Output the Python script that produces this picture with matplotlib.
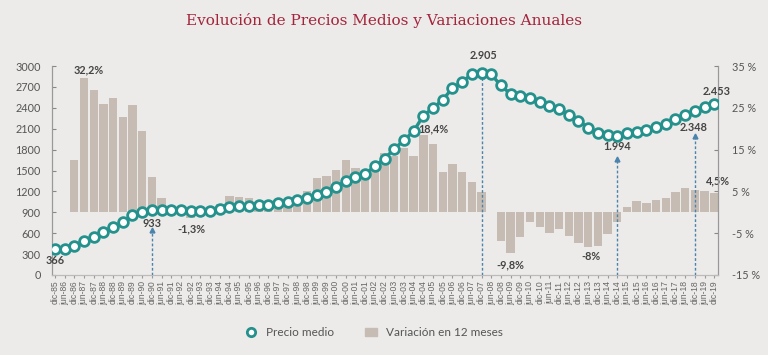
import matplotlib.pyplot as plt
from matplotlib.lines import Line2D
from matplotlib.patches import Patch
import numpy as np

# semestres dic-85 ... dic-19
periodos = []
for a in range(85, 120):
    yy = "%02d" % (a % 100)
    if a > 85:
        periodos.append("jun-" + yy)
    periodos.append("dic-" + yy)

precio = [366, 372, 418, 490, 545, 620, 691, 760, 864, 910,
          933, 940, 935, 930, 918, 915, 925, 950, 970, 985,
          993, 1003, 1005, 1027, 1042, 1080, 1104, 1147, 1190, 1267,
          1349, 1406, 1454, 1560, 1670, 1809, 1935, 2064, 2289, 2395,
          2515, 2683, 2770, 2885, 2905, 2879, 2721, 2597, 2568, 2543,
          2486, 2433, 2385, 2294, 2217, 2112, 2035, 2011, 1994, 2035,
          2058, 2087, 2130, 2169, 2237, 2299, 2348, 2410, 2453]

# variacion interanual, desde dic-86
variacion = [12.4, 32.2, 29.3, 25.9, 27.3, 22.7, 25.6, 19.5, 8.4, 3.5,
             0.3, -0.5, -1.3, -0.8, 0.4, 1.9, 3.9, 3.7, 3.4, 1.2,
             1.4, 1.5, 1.8, 2.2, 5.0, 8.3, 8.7, 10.1, 12.4, 10.6,
             9.8, 11.2, 14.3, 13.5, 15.5, 13.5, 18.4, 16.3, 9.7, 11.6,
             9.6, 7.3, 4.9, 0.1, -6.9, -9.8, -6.0, -2.3, -3.5, -5.0,
             -4.1, -5.7, -7.3, -8.2, -8.1, -5.1, -2.3, 1.2, 2.7, 2.2,
             3.0, 3.4, 4.8, 5.7, 5.3, 5.0, 4.5]

fondo = "#ecebe9"
teal = "#25918d"
barra = "#c6bcb4"
flecha = "#4a84ad"
txt = "#444444"

x = np.arange(len(periodos))
xb = x[len(periodos) - len(variacion):]

fig = plt.figure(figsize=(7.68, 3.55), dpi=100, facecolor=fondo)
ax = fig.add_axes([0.0677, 0.2254, 0.8673, 0.5886])
ax.set_facecolor(fondo)
ax.bar(xb, variacion, width=0.86, color=barra, zorder=1)
ax.set_ylim(-15, 35)

ax2 = ax.twinx()
ax2.plot(x, precio, color=teal, lw=2.4, marker="o", ms=7, mfc="white",
         mec=teal, mew=2.0, zorder=5)
ax2.set_ylim(0, 3000)

# porcentajes a la derecha, precios a la izquierda
ax.yaxis.tick_right()
ax2.yaxis.tick_left()
ax.set_yticks([-15, -5, 5, 15, 25, 35])
ax.set_yticklabels(["%d %%" % v for v in [-15, -5, 5, 15, 25, 35]])
ax.tick_params(axis="y", direction="in", length=3, color="#888888",
               labelsize=7.8, labelcolor="#555555", pad=10)
for lab in ax.get_yticklabels():
    lab.set_family("Lato")
ax2.set_yticks(range(0, 3001, 300))
ax2.tick_params(axis="y", direction="in", length=3, color="#888888",
                labelsize=7.8, labelcolor="#555555", pad=8)
for lab in ax2.get_yticklabels():
    lab.set_family("Lato")

ax.set_xlim(-0.3, 68.4)
ax.set_xticks(x)
ax.set_xticklabels(periodos, fontsize=6.2, color="#666666",
                   family="Liberation Sans")
ax.tick_params(axis="x", length=2, color="#999999", pad=2, labelrotation=90)

for a in (ax, ax2):
    a.spines["top"].set_visible(False)
    a.spines["left"].set_color("#999999")
    a.spines["right"].set_color("#999999")
    a.spines["bottom"].set_color("#bbbbbb")

# flechas punteadas
for i, tope in [(10, 640), (44, 2860), (58, 1660), (66, 1990)]:
    ax2.vlines(i, 0, tope, colors=flecha, linestyles=(0, (2, 1.5)), lw=1, zorder=3)
    ax2.plot(i, tope, marker="^", ms=3.5, color=flecha, zorder=3, clip_on=False)

# etiquetas de precio
kw = dict(fontsize=7.8, fontweight="bold", color=txt, ha="center", va="center",
          family="Lato")
ax2.text(0.05, 205, "366", clip_on=False, **kw)
ax2.text(10.0, 741, "933", **kw)
ax2.text(44.2, 3148, "2.905", clip_on=False, **kw)
ax2.text(58.0, 1838, "1.994", **kw)
ax2.text(65.9, 2112, "2.348", **kw)
ax2.text(68.3, 2630, "2.453", clip_on=False, **kw)
# etiquetas de variacion
ax.text(3.46, 34.0, "32,2%", **kw)
ax.text(14.1, -4.0, "-1,3%", **kw)
ax.text(39.0, 19.9, "18,4%", **kw)
ax.text(46.95, -12.5, "-9,8%", **kw)
ax.text(55.3, -10.5, "-8%", **kw)
ax.text(68.35, 7.6, "4,5%", clip_on=False, **kw)

fig.text(0.5, 0.943, "Evolución de Precios Medios y Variaciones Anuales",
         ha="center", va="center", fontsize=11, color="#a3243b",
         family="DejaVu Serif")

handles = [Line2D([], [], color=teal, marker="o", ls="none", ms=6, mfc="white",
                  mec=teal, mew=2),
           Patch(color=barra)]
fig.legend(handles, ["Precio medio", "Variación en 12 meses"],
           loc="center", bbox_to_anchor=(0.487, 0.062), ncol=2, frameon=False,
           prop={"family": "Lato", "size": 8.5}, labelcolor="#555555",
           columnspacing=2.6, handlelength=1.0, handletextpad=0.8)

fig.savefig("out.png", dpi=100, facecolor=fondo)
